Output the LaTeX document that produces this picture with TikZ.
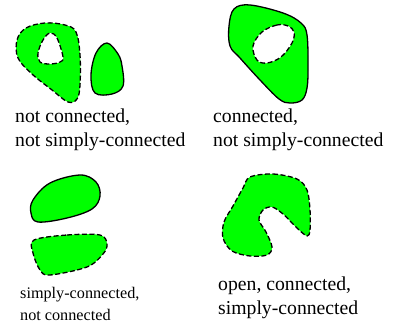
\documentclass[tikz,border=0pt]{standalone}
\usepackage{fontspec}
\setmainfont{Liberation Serif}
\usepackage{tikz}
\usetikzlibrary{positioning}

\begin{document}
\begin{tikzpicture}[x=1pt, y=-1pt,
    region/.style={fill=green, draw=black, line width=1.3pt},
    openedge/.style={dashed, dash pattern=on 5pt off 2.5pt},
    hole/.style={fill=white, draw=black, line width=1.3pt},
    caption/.style={align=left, anchor=west, inner sep=0pt, font=\fontsize{19.7}{24}\selectfont},
    smallcaption/.style={caption, font=\fontsize{16.2}{22}\selectfont}]
    \useasboundingbox (0,0) rectangle (395,324);

    % Top left: two pieces, one with a hole
    \draw[region, openedge] plot[smooth cycle, tension=0.6] coordinates
        {(17,40) (26,28) (45,23) (65,25) (76,32) (80,55) (80,85) (77,99)
         (68,102) (52,90) (32,74) (18,58)};
    \draw[hole, openedge] plot[smooth cycle, tension=0.6] coordinates
        {(50,33) (57,38) (63,57) (60,62) (50,64) (40,62) (38,53) (43,40)};
    \draw[region] plot[smooth cycle, tension=0.6] coordinates
        {(107,43) (118,54) (122,66) (123,86) (112,94) (95,93) (91,75) (96,53)};
    \node[caption] (tl) at (15,130) {not connected,\\not simply-connected};

    % Top right: one piece with a hole
    \draw[region] plot[smooth cycle, tension=0.6] coordinates
        {(234,9) (250,5) (283,13) (301,23) (307,35) (308,67) (307,88)
         (302,100) (290,103) (279,99) (260,80) (240,58) (230,46) (229,26)};
    \draw[hole, openedge] plot[smooth cycle, tension=0.6] coordinates
        {(288,26) (277,25) (262,32) (253,46) (257,60) (267,63) (281,57)
         (292,43) (294,32)};
    \node[caption] (tr) at (213,130) {connected,\\not simply-connected};

    % Bottom left: two pieces, no holes
    \draw[region] plot[smooth cycle, tension=0.6] coordinates
        {(80,175) (96,182) (100,196) (92,209) (67,218) (38,222) (31,213)
         (33,200) (50,183)};
    \draw[region, openedge] plot[smooth cycle, tension=0.55] coordinates
        {(34,240) (67,235) (100,235) (107,244) (103,254) (87,267) (50,275)
         (40,270) (33,253)};
    \node[smallcaption] (bl) at (20,304) {simply-connected,\\not connected};

    % Bottom right: open S-shaped piece
    \draw[region, openedge] plot[smooth cycle, tension=0.55] coordinates
        {(250,177) (273,174) (297,179) (307,190) (310,210) (310,230) (307,236)
         (297,228) (283,214) (272,207) (263,210) (259,220) (266,232) (272,247)
         (267,255) (250,256) (232,251) (223,238) (224,222) (233,206) (243,188)};
    \node[caption] (br) at (218,297.5) {open, connected,\\simply-connected};
\end{tikzpicture}
\end{document}
